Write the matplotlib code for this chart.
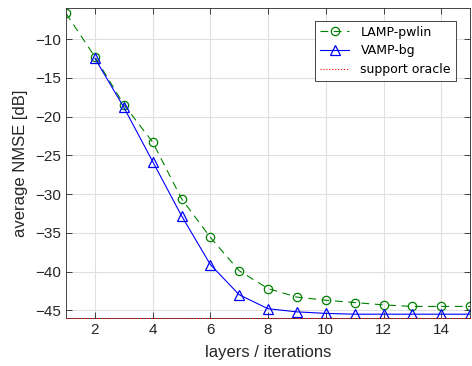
import matplotlib
matplotlib.use("Agg")
import matplotlib.pyplot as plt

layers_lamp = [1, 2, 3, 4, 5, 6, 7, 8, 9, 10, 11, 12, 13, 14, 15]
lamp_pwlin = [-6.7, -12.3, -18.45, -23.3, -30.6, -35.6, -39.9, -42.2, -43.3, -43.7, -44.0, -44.3, -44.5, -44.5, -44.5]
layers_vamp = [2, 3, 4, 5, 6, 7, 8, 9, 10, 11, 12, 13, 14, 15]
vamp_bg = [-12.5, -18.8, -25.8, -32.8, -39.1, -43.0, -44.8, -45.2, -45.4, -45.5, -45.5, -45.5, -45.5, -45.5]
oracle_x = [1, 15]
oracle_y = [-46.0, -46.0]
xticks = [2, 4, 6, 8, 10, 12, 14]
yticks = [-10, -15, -20, -25, -30, -35, -40, -45]

plt.rcParams['font.family'] = ['Liberation Sans', 'DejaVu Sans']

fig = plt.figure(figsize=(4.72, 3.66), dpi=100)
ax = fig.add_axes([0.140, 0.131, 0.856, 0.847])

ax.plot(layers_lamp, lamp_pwlin, color=(0, 0.5, 0), linestyle=(0, (7, 5)), linewidth=0.8,
        marker='o', markersize=6, markerfacecolor='none', markeredgecolor=(0, 0.5, 0),
        markeredgewidth=0.9, label='LAMP-pwlin')
ax.plot(layers_vamp, vamp_bg, color='blue', linestyle='-', linewidth=0.8,
        marker='^', markersize=6.5, markerfacecolor='none', markeredgecolor='blue',
        markeredgewidth=0.9, label='VAMP-bg')
ax.plot(oracle_x, oracle_y, color='red', linestyle=':', linewidth=0.8, clip_on=False,
        label='support oracle', zorder=5)

ax.set_xlim(1, 15)
ax.set_ylim(-46, -6)
ax.set_xticks(xticks)
ax.set_yticks(yticks)
ax.grid(True, color='#e0e0e0', linewidth=0.8)
ax.set_axisbelow(True)
ax.tick_params(direction='in', top=True, right=True, labelsize=11, colors='#262626',
               length=4, width=0.6)
for s in ax.spines.values():
    s.set_color('#262626')
    s.set_linewidth(0.6)
ax.set_xlabel('layers / iterations', fontsize=12, color='#262626', labelpad=6)
ax.set_ylabel('average NMSE [dB]', fontsize=12, color='#262626', labelpad=5)

leg = ax.legend(loc='upper right', bbox_to_anchor=(0.965, 0.959), borderaxespad=0,
                frameon=True, fancybox=False, edgecolor='#262626', framealpha=1,
                handlelength=2.3, borderpad=0.4, labelspacing=0.45, handletextpad=0.9,
                prop={'family': 'DejaVu Sans', 'size': 9})
leg.get_frame().set_linewidth(0.6)

fig.savefig('out.png', dpi=100)
